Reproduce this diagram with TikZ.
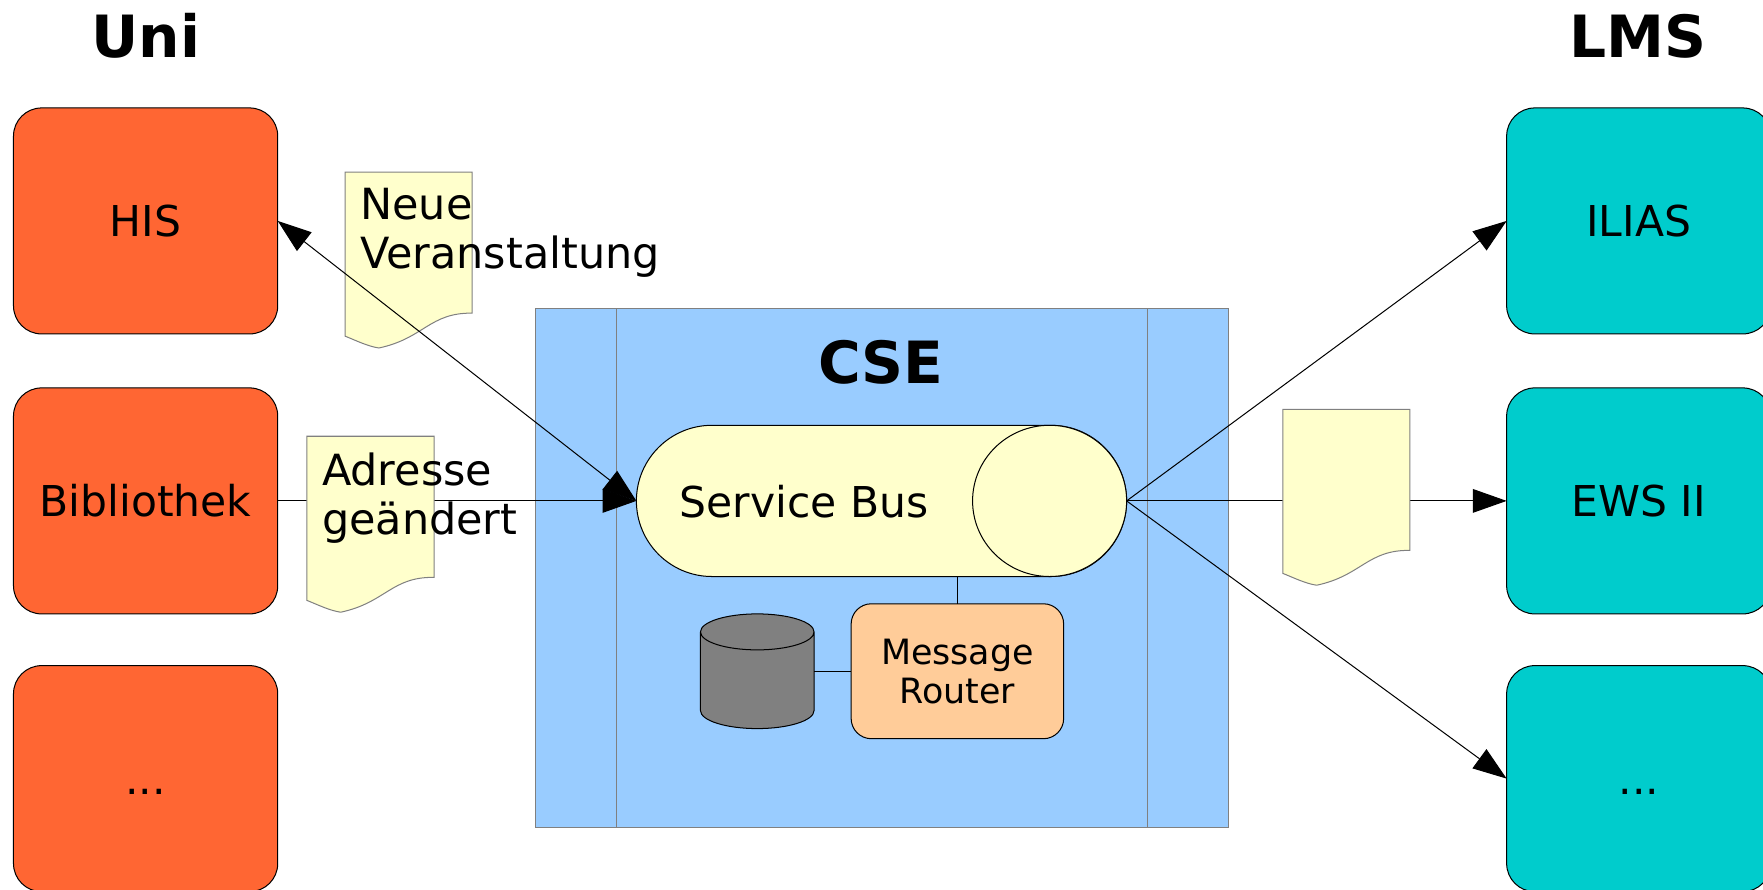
\documentclass[tikz,border=0pt]{standalone}
\usepackage{fontspec}
\setmainfont{DejaVu Sans}
\usetikzlibrary{positioning, shapes.geometric, shapes.misc, arrows.meta}
\definecolor{uniorange}{HTML}{FF6633}
\definecolor{lmsteal}{HTML}{00CCCC}
\definecolor{cseblue}{HTML}{99CCFF}
\definecolor{docyellow}{HTML}{FFFFCC}
\definecolor{routerpeach}{HTML}{FFCC99}
\tikzstyle{arrow} = [line width=0.45pt,>={Triangle[length=15pt,width=10.5pt]}]
\tikzstyle{plain-line} = [line width=0.45pt]

\begin{document}
\begin{tikzpicture}[
    x=0.5pt, y=-0.5pt,
    big-text/.style={font=\fontsize{18.9}{22}\selectfont},
    head-text/.style={font=\fontsize{25.9}{30}\selectfont\bfseries},
    sys-box/.style={draw, line width=0.45pt, rounded corners=12.5pt, minimum width=117.5pt, minimum height=100.5pt, inner sep=0pt, outer sep=0pt, big-text, text height=14pt, text depth=0pt},
    uni-box/.style={sys-box, fill=uniorange},
    lms-box/.style={sys-box, fill=lmsteal},
    doc-line/.style={draw=gray, line width=0.45pt, fill=docyellow},
    doc-text/.style={font=\fontsize{19.1}{22}\selectfont, align=left, anchor=north west, inner sep=0pt},
    pics/doc-page/.style={code={
      \draw[doc-line] (0,0) -- (113,0) -- (113,125.5) .. controls (75,125) and (70,148) .. (30,156.5) .. controls (20,155) and (10,150) .. (0,146) -- cycle;
    }}
  ]

  \useasboundingbox (0,0) rectangle (1568,790.7);
  \clip (0,0) rectangle (1568,790.7);

  % left column
  \node[uni-box] (his) at (129.5,196.5) {HIS};
  \node[uni-box, below=24pt of his] (bib) {Bibliothek};
  \node[uni-box, below=23pt of bib] (unidots) {...};
  \node[head-text] (uni) at (129.5,32) {Uni};

  % right column
  \node[lms-box] (ilias) at (1457.5,196.5) {ILIAS};
  \node[lms-box, below=24pt of ilias] (ews) {EWS II};
  \node[lms-box, below=23pt of ews] (lmsdots) {...};
  \node[head-text] (lms) at (1457,32) {LMS};

  % CSE block
  \node[draw=gray, line width=0.45pt, fill=cseblue, minimum width=308.5pt, minimum height=231pt, inner sep=0pt, outer sep=0pt] (cse) at (784.5,505) {};
  \draw[draw=gray, line width=0.45pt] (cse.north west) ++(72.5,0) coordinate (cseL) -- (cseL |- cse.south);
  \draw[draw=gray, line width=0.45pt] (cse.north east) ++(-72.5,0) coordinate (cseR) -- (cseR |- cse.south);
  \node[head-text] (csetitle) at (783.5,322) {CSE};

  \node[draw, line width=0.45pt, fill=docyellow, rounded rectangle, rounded rectangle arc length=180, minimum width=218pt, minimum height=67.25pt, inner sep=0pt, outer sep=0pt] (bus) at (784,445.5) {};
  \node[draw, line width=0.45pt, fill=docyellow, ellipse, minimum width=68.5pt, minimum height=67.25pt, inner sep=0pt, outer sep=0pt] (busend) at (933.5,445.5) {};
  \node[big-text] (buslabel) at (715,446) {Service Bus};

  \node[draw, line width=0.45pt, fill=routerpeach, rounded corners=9pt, minimum width=94.5pt, minimum height=60pt, inner sep=0pt, outer sep=0pt, align=center, font=\fontsize{15.5}{17.5}\selectfont] (router) at (851.5,597) {Message\\Router};

  % store: the node only holds the place, the can is drawn on it
  \node[minimum width=50.5pt, minimum height=51pt, inner sep=0pt, outer sep=0pt] (db) at (673.5,597) {};
  \draw[line width=0.45pt, fill=gray] (db.north west) ++(0,16) -- ++(0,70) arc[start angle=180, end angle=360, x radius=25.25pt, y radius=8pt] -- ++(0,-70) arc[start angle=0, end angle=180, x radius=25.25pt, y radius=8pt] arc[start angle=180, end angle=360, x radius=25.25pt, y radius=8pt];

  \draw[plain-line] (router.north) -- (router.north |- bus.south);
  \draw[plain-line] (db.east) -- (router.west);

  % flows, the pages lie on top of the two straight ones
  \draw[arrow,->] (bib.east) -- (bus.west);
  \draw[arrow,->] (bus.east) -- (ews.west);
  \pic at (307,153) {doc-page};
  \pic at (273,388) {doc-page};
  \pic at (1141,364) {doc-page};
  \draw[arrow,<->] (his.east) -- (bus.west);
  \draw[arrow,->] (bus.east) -- (ilias.west);
  \draw[arrow,->] (bus.east) -- (lmsdots.west);

  \node[doc-text] (neue) at (320,167) {Neue\\Veranstaltung};
  \node[doc-text] (adresse) at (286,402) {Adresse\\geändert};

\end{tikzpicture}
\end{document}
